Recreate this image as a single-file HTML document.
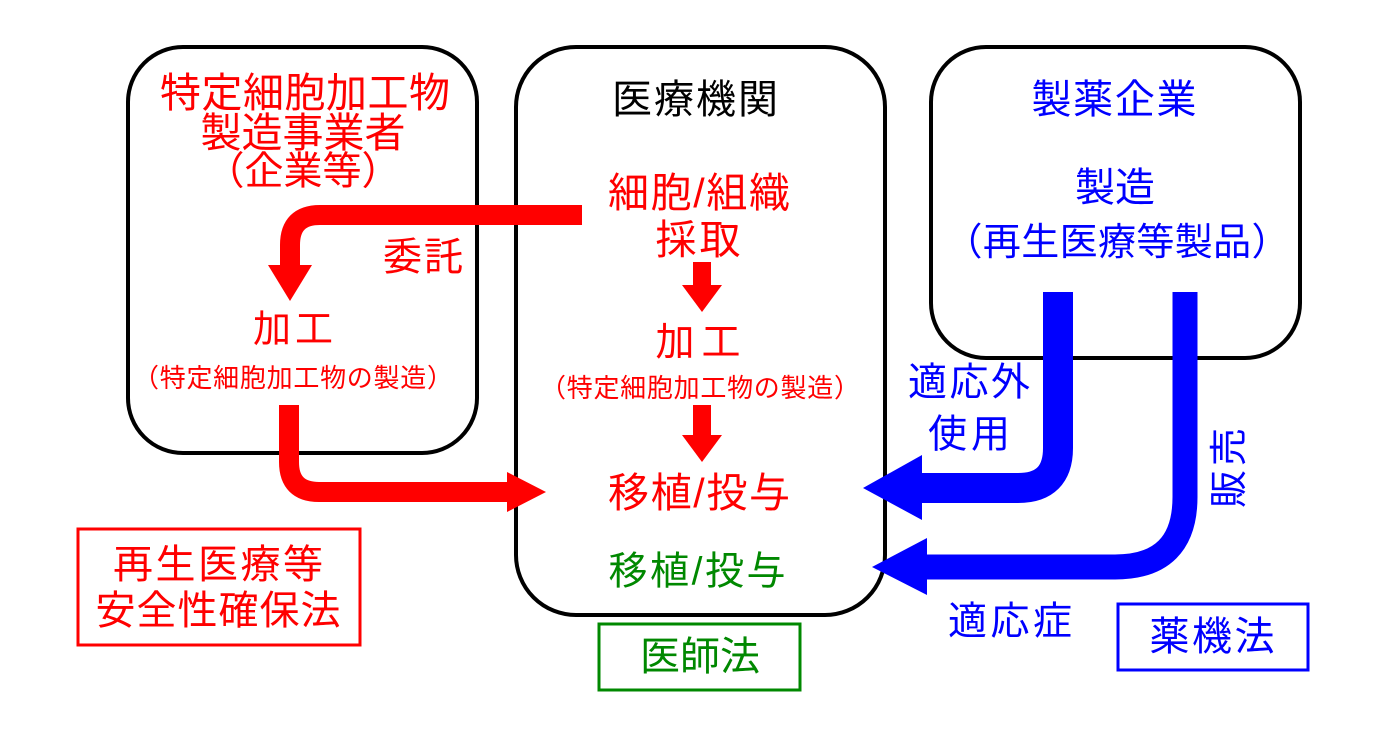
<!DOCTYPE html>
<html><head><meta charset="utf-8"><style>
html,body{margin:0;padding:0;background:#fff;}
svg{display:block;}
text{font-family:"Liberation Sans","Noto Sans CJK JP",sans-serif;text-anchor:middle;dominant-baseline:central;}
</style></head><body>
<svg width="1383" height="739" viewBox="0 0 1383 739">
<g fill="none" stroke="#000" stroke-width="4">
<rect x="128" y="47" width="349" height="406" rx="55"/>
<rect x="516" y="47" width="369" height="568" rx="60"/>
<rect x="931" y="47" width="369" height="311" rx="55"/>
</g>
<g fill="none" stroke="#f00" stroke-width="20">
<path d="M582 215 H320 Q290 215 290 245 V268"/>
<path d="M289 405 V462 Q289 492 319 492 H510"/>
</g>
<g fill="#f00">
<polygon points="268,265 312,265 290,301"/>
<polygon points="507,472 507,512 546,492"/>
<rect x="693" y="262" width="18" height="24"/>
<polygon points="682,285 722,285 702,312"/>
<rect x="693" y="405" width="18" height="31"/>
<polygon points="682,435 722,435 702,462"/>
</g>
<g fill="none" stroke="#00f">
<path d="M1058 292 V448 Q1058 488 1018 488 H920" stroke-width="30"/>
<path d="M1185 292 V497 Q1185 567 1115 567 H925" stroke-width="25"/>
</g>
<g fill="#00f">
<polygon points="922,455 922,520 863,488"/>
<polygon points="927,538 927,595 872,567"/>
</g>
<g fill="#f00" font-size="41">
<text x="305" y="93" textLength="290" lengthAdjust="spacing">特定細胞加工物</text>
<text x="303" y="133" textLength="205" lengthAdjust="spacing">製造事業者</text>
<text x="303" y="172" font-size="39">（企業等）</text>
<text x="423" y="258" font-size="39" textLength="80" lengthAdjust="spacing">委託</text>
<text x="293" y="330" font-size="38" textLength="80" lengthAdjust="spacing">加工</text>
<text x="293" y="378" font-size="26" textLength="320" lengthAdjust="spacing">（特定細胞加工物の製造）</text>
<text x="699" y="193" textLength="182" lengthAdjust="spacing">細胞/組織</text>
<text x="698" y="240" textLength="85" lengthAdjust="spacing">採取</text>
<text x="698" y="343" font-size="39" textLength="85" lengthAdjust="spacing">加工</text>
<text x="700" y="388" font-size="26" textLength="320" lengthAdjust="spacing">（特定細胞加工物の製造）</text>
<text x="699" y="493" textLength="182" lengthAdjust="spacing">移植/投与</text>
</g>
<text x="695" y="100" font-size="40" fill="#000" textLength="166" lengthAdjust="spacing">医療機関</text>
<text x="697" y="572" font-size="39" fill="#080" textLength="177" lengthAdjust="spacing">移植/投与</text>
<g fill="#00f" font-size="40">
<text x="1114" y="100" textLength="165" lengthAdjust="spacing">製薬企業</text>
<text x="1115" y="188" textLength="80" lengthAdjust="spacing">製造</text>
<text x="1117" y="243" font-size="38" textLength="345" lengthAdjust="spacing">（再生医療等製品）</text>
<text x="969" y="383" font-size="39" textLength="122" lengthAdjust="spacing">適応外</text>
<text x="969" y="435" font-size="39" textLength="82" lengthAdjust="spacing">使用</text>
<text x="0" y="0" font-size="38" textLength="80" lengthAdjust="spacing" transform="translate(1230,468) rotate(-90)">販売</text>
<text x="1010" y="622" font-size="39" textLength="124" lengthAdjust="spacing">適応症</text>
</g>
<rect x="78" y="529" width="282" height="116" fill="none" stroke="#f00" stroke-width="3"/>
<text x="218" y="565" font-size="40" fill="#f00" textLength="210" lengthAdjust="spacing">再生医療等</text>
<text x="218" y="611" font-size="40" fill="#f00" textLength="245" lengthAdjust="spacing">安全性確保法</text>
<rect x="599" y="624" width="201" height="66" fill="none" stroke="#080" stroke-width="3"/>
<text x="700" y="657" font-size="40" fill="#080" textLength="120" lengthAdjust="spacing">医師法</text>
<rect x="1118" y="604" width="190" height="66" fill="none" stroke="#00f" stroke-width="3"/>
<text x="1212" y="637" font-size="40" fill="#00f" textLength="125" lengthAdjust="spacing">薬機法</text>
</svg>
</body></html>
